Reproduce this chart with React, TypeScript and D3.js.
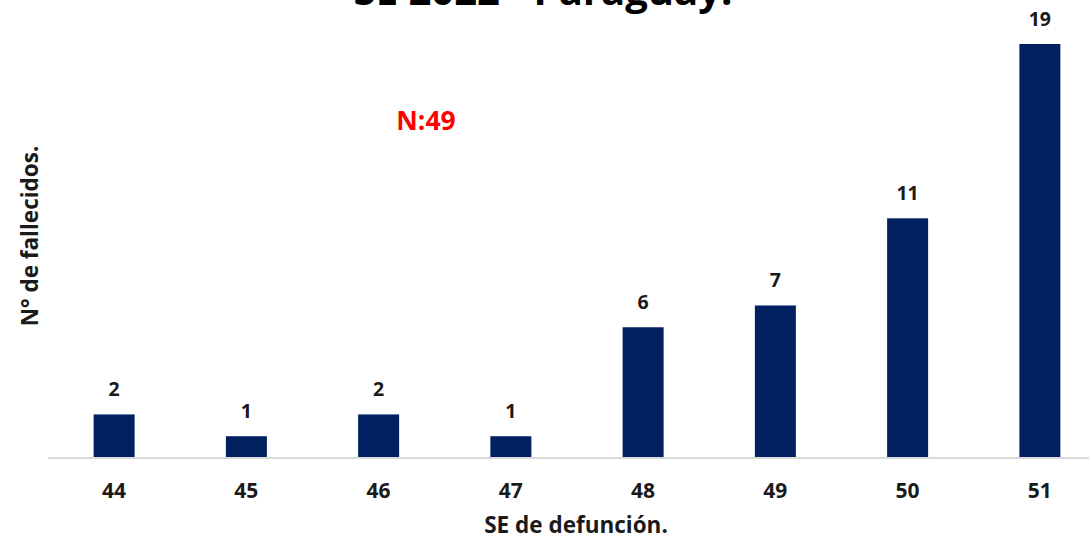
import { useEffect, useRef } from "react";
import * as d3 from "d3";

const weeks = ["44", "45", "46", "47", "48", "49", "50", "51"];
const deaths = [2, 1, 2, 1, 6, 7, 11, 19];
const titleText = "SE 2022 - Paraguay.";
const totalLabel = "N:49";
const xTitle = "SE de defunción.";
const yTitle = "N° de fallecidos.";

export default function App() {
  const svgRef = useRef<SVGSVGElement | null>(null);

  useEffect(() => {
    const width = 1089;
    const height = 540;
    const svg = d3.select(svgRef.current);
    svg.selectAll("*").remove();
    svg.attr("width", width).attr("height", height);

    const font = "'Open Sans', 'Noto Sans', sans-serif";
    const base = 458;

    const x = d3.scaleBand<string>().domain(weeks).range([48, 1106]).paddingInner(0.69).paddingOuter(0.345);
    const y = d3.scaleLinear().domain([0, 19]).range([base, 44]);

    const g = svg.append("g");

    g.selectAll("rect.bar")
      .data(deaths)
      .join("rect")
      .attr("class", "bar")
      .attr("x", (_, i) => x(weeks[i])!)
      .attr("y", (d) => y(d))
      .attr("width", x.bandwidth())
      .attr("height", (d) => base - y(d))
      .attr("fill", "#002060");

    g.append("line")
      .attr("x1", 48)
      .attr("x2", width)
      .attr("y1", base)
      .attr("y2", base)
      .attr("stroke", "#d9d9d9")
      .attr("stroke-width", 2);

    g.selectAll("text.val")
      .data(deaths)
      .join("text")
      .attr("class", "val")
      .attr("x", (_, i) => x(weeks[i])! + x.bandwidth() / 2)
      .attr("y", (d) => y(d) - 18)
      .attr("text-anchor", "middle")
      .attr("font-family", font)
      .attr("font-weight", 700)
      .attr("font-size", 19.5)
      .attr("fill", "#1a1a1a")
      .text((d) => d);

    g.selectAll("text.tick")
      .data(weeks)
      .join("text")
      .attr("class", "tick")
      .attr("x", (d) => x(d)! + x.bandwidth() / 2)
      .attr("y", 498)
      .attr("text-anchor", "middle")
      .attr("font-family", font)
      .attr("font-weight", 700)
      .attr("font-size", 21)
      .attr("fill", "#1a1a1a")
      .text((d) => d);

    svg.append("text")
      .attr("x", 576)
      .attr("y", 533)
      .attr("text-anchor", "middle")
      .attr("font-family", font)
      .attr("font-weight", 700)
      .attr("font-size", 22.5)
      .attr("fill", "#1a1a1a")
      .text(xTitle);

    svg.append("text")
      .attr("transform", "translate(38,236) rotate(-90)")
      .attr("text-anchor", "middle")
      .attr("font-family", font)
      .attr("font-weight", 700)
      .attr("font-size", 22.5)
      .attr("fill", "#1a1a1a")
      .text(yTitle);

    svg.append("text")
      .attr("x", 426)
      .attr("y", 130)
      .attr("text-anchor", "middle")
      .attr("font-family", font)
      .attr("font-weight", 700)
      .attr("font-size", 26.5)
      .attr("fill", "#ff0000")
      .text(totalLabel);

    svg.append("text")
      .attr("x", 543)
      .attr("y", 5)
      .attr("text-anchor", "middle")
      .attr("font-family", font)
      .attr("font-weight", 700)
      .attr("font-size", 40)
      .attr("fill", "#000")
      .text(titleText);
  }, []);

  return (
    <div style={{ position: "fixed", left: 0, top: 0, background: "#fff" }}>
      <svg ref={svgRef} style={{ display: "block" }} />
    </div>
  );
}
